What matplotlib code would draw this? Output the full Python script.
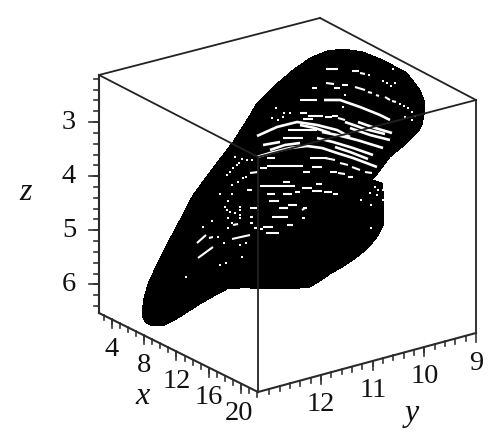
import matplotlib
matplotlib.use("Agg")
import matplotlib.pyplot as plt
import numpy as np

# box corners
back_left_top = (99, 75)
back_top = (320, 18)
right_top = (476, 100)
front_top = (258, 157)
left_bottom = (99, 313)
front_bottom = (258, 392)
right_bottom = (476, 333)

# axes ranges at the box corners
z_range = (2.13, 6.53)
x_range = (2.4, 22.1)
y_range = (13.22, 9.0)

z_major = [3, 4, 5, 6]
x_major = [4, 8, 12, 16, 20]
y_major = [12, 11, 10, 9]
z_minor = np.arange(2.2, 6.6, 0.2)
x_minor = np.arange(3, 23, 1)
y_minor = np.arange(9.2, 13.2, 0.2)

# outline of the attractor
blob_x = [142, 143, 146, 150, 157, 165, 173, 186, 200, 214, 227, 240, 250, 270, 290, 310, 320,
          330, 344, 357, 368, 377, 384, 384, 382, 372, 378, 390, 407, 418, 422, 425, 424,
          420, 407, 383, 363, 343, 327, 310, 293, 273, 257, 250, 233, 213, 193, 180, 173,
          157, 148, 144]
blob_y = [312, 318, 323, 325, 326, 325, 321, 313, 304, 296, 289, 288, 288, 289, 289, 287, 281,
          274, 266, 257, 248, 237, 224, 197, 183, 180, 173, 157, 143, 132, 125, 110, 100,
          90, 73, 60, 52, 49, 51, 58, 70, 87, 103, 115, 142, 168, 195, 220, 233,
          264, 284, 298]

# white gaps: thick arcs
arcs = [
    [(324, 100), (340, 100), (360, 107), (380, 115), (390, 120)],
    [(257, 136), (277, 127), (297, 122), (317, 125), (337, 130), (350, 137)],
    [(257, 157), (270, 153), (290, 148), (307, 146), (322, 148), (337, 153), (353, 158), (377, 167)],
    [(263, 145), (280, 142)],
    [(317, 138), (333, 142), (353, 148), (373, 155)],
    [(322, 132), (337, 135), (357, 140), (383, 148)],
    [(350, 128), (370, 135), (390, 140)],
    [(345, 122), (365, 129), (385, 134)],
    [(300, 125), (315, 128), (330, 133)],
    [(270, 150), (285, 145), (300, 143)],
    [(335, 147), (350, 152), (368, 159)],
    [(358, 122), (375, 128), (392, 133)],
]

# white gaps: short straight pieces x0, y0, x1, y1
streaks = [
    (326, 69, 338, 69), (352, 71, 359, 71), (360, 73, 365, 74), (326, 83, 334, 84),
    (312, 88, 317, 88), (334, 88, 340, 88), (342, 85, 348, 85), (355, 87, 365, 90),
    (368, 92, 372, 93), (376, 95, 379, 96), (385, 97, 390, 100), (392, 101, 396, 102),
    (300, 100, 317, 100), (300, 113, 307, 113), (308, 116, 323, 116), (303, 119, 313, 119),
    (325, 117, 332, 117), (332, 116, 338, 116), (338, 118, 345, 120), (288, 130, 317, 130),
    (283, 138, 303, 138), (267, 158, 275, 158), (267, 166, 303, 166), (310, 158, 327, 158),
    (303, 172, 310, 172), (312, 167, 322, 167), (330, 172, 337, 172), (338, 173, 345, 174),
    (348, 177, 353, 177), (260, 186, 295, 186), (283, 182, 290, 182), (302, 188, 312, 188),
    (316, 184, 322, 184), (312, 191, 322, 191), (324, 192, 332, 192), (333, 194, 338, 194),
    (267, 194, 275, 194), (283, 194, 292, 194), (295, 192, 300, 192), (269, 201, 279, 201),
    (279, 208, 288, 208), (288, 205, 297, 205), (303, 208, 307, 208), (260, 168, 267, 168),
    (250, 173, 258, 172), (247, 190, 252, 190), (250, 208, 257, 208), (280, 208, 288, 208),
    (272, 217, 288, 217), (302, 210, 305, 208), (302, 218, 305, 218), (287, 225, 293, 225),
    (263, 227, 273, 227), (254, 228, 257, 228), (260, 229, 263, 229), (266, 233, 279, 233),
    (250, 217, 253, 217), (250, 223, 253, 223), (233, 225, 238, 224), (232, 239, 250, 235),
    (197, 243, 206, 235), (209, 238, 213, 237), (198, 258, 213, 247), (325, 158, 335, 160),
    (340, 163, 348, 165), (352, 167, 360, 170), (365, 172, 372, 173),
]

# white gaps: single dots
dots_x = [369, 393, 383, 387, 391, 395, 345, 343, 400, 404, 408, 412, 405, 412, 415, 235, 239,
          237, 233, 230, 227, 242, 247, 252, 232, 238, 243, 246, 220, 232, 228, 225, 227,
          230, 235, 240, 240, 240, 228, 232, 240, 212, 203, 228, 218, 224, 240,
          246, 242, 220, 226, 186, 371, 375, 378, 377, 383, 383, 370, 361, 371, 276, 284,
          290, 278, 272, 283]
dots_y = [75, 69, 81, 83, 86, 83, 95, 107, 104, 106, 108, 112, 117, 120, 116, 157, 163,
          165, 168, 172, 175, 159, 160, 160, 185, 182, 178, 177, 194, 194, 201, 207, 210,
          212, 213, 207, 210, 215, 218, 223, 218, 221, 227, 228, 237, 243, 245,
          243, 257, 265, 263, 277, 228, 187, 190, 195, 190, 200, 193, 200, 205, 108, 113,
          113, 120, 118, 117]

fig = plt.figure(figsize=(5, 4.48), dpi=100, facecolor='white')
ax = fig.add_axes([0, 0, 1, 1])
ax.set_xlim(0, 500)
ax.set_ylim(448, 0)
ax.axis('off')

ax.fill(blob_x, blob_y, color='black', lw=0, antialiased=False, zorder=1)

for arc in arcs:
    a = np.array(arc)
    ax.plot(a[:, 0], a[:, 1], color='white', lw=1.9, zorder=2, solid_capstyle='butt')
for s in streaks:
    ax.plot([s[0], s[2]], [s[1], s[3]], color='white', lw=1.5, zorder=2, solid_capstyle='butt')
ax.scatter(dots_x, dots_y, s=3, color='white', linewidths=0, marker='s', zorder=2)

# box edges
edges = [(back_left_top, back_top), (back_top, right_top), (back_left_top, front_top),
         (right_top, front_top), (right_top, right_bottom), (front_top, front_bottom)]
for p, q in edges:
    ax.plot([p[0], q[0]], [p[1], q[1]], color='#222222', lw=1.3, zorder=3)
axes_edges = [(back_left_top, left_bottom), (left_bottom, front_bottom), (front_bottom, right_bottom)]
for p, q in axes_edges:
    ax.plot([p[0], q[0]], [p[1], q[1]], color='#2a2a2a', lw=1.5, zorder=3)


def along(v, rng, p, q):
    t = (v - rng[0]) / (rng[1] - rng[0])
    return p[0] + t * (q[0] - p[0]), p[1] + t * (q[1] - p[1])


font = dict(family='Liberation Serif', size=20.5, color='#111111', ha='center', va='center')

for v in z_minor:
    px, py = along(v, z_range, back_left_top, left_bottom)
    ax.plot([px - 5, px], [py, py], color='#333333', lw=1.2)
for v in z_major:
    px, py = along(v, z_range, back_left_top, left_bottom)
    ax.plot([px - 10, px], [py, py], color='#333333', lw=1.2)
    ax.text(69, py, str(v), **font)

for v in x_minor:
    px, py = along(v, x_range, left_bottom, front_bottom)
    ax.plot([px, px], [py, py + 5], color='#333333', lw=1.2)
for v in x_major:
    px, py = along(v, x_range, left_bottom, front_bottom)
    ax.plot([px, px], [py, py + 9], color='#333333', lw=1.2)
    ax.text(px - (2 if v == 20 else 0), py + 30, str(v), **font)

for v in y_minor:
    px, py = along(v, y_range, front_bottom, right_bottom)
    ax.plot([px, px], [py, py + 5], color='#333333', lw=1.2)
for v in y_major:
    px, py = along(v, y_range, front_bottom, right_bottom)
    ax.plot([px, px], [py, py + 9], color='#333333', lw=1.2)
    ax.text(px, py + 30, str(v), **font)

label_font = dict(font, style='italic', size=23)
ax.text(26, 193, 'z', **label_font)
ax.text(143, 397, 'x', **label_font)
ax.text(412, 413, 'y', **label_font)

fig.savefig('out.png', dpi=100, facecolor='white')
plt.close()
